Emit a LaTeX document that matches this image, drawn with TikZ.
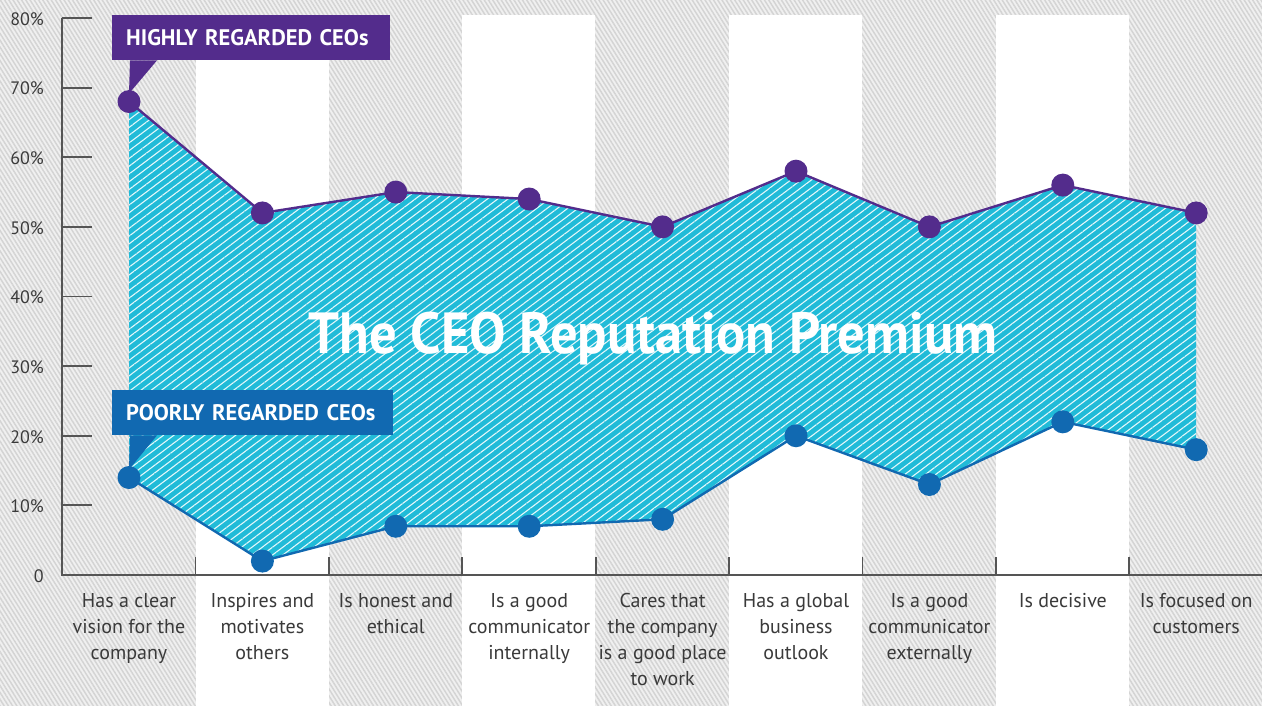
\documentclass[tikz,border=0pt]{standalone}
\usepackage{fontspec}
\setmainfont{PT Sans}
\newfontfamily\condfont[FakeStretch=0.94]{PT Sans}
\usetikzlibrary{patterns.meta,calc}
\definecolor{cyanfill}{HTML}{20BBD8}
\definecolor{purp}{HTML}{532C8C}
\definecolor{blu}{HTML}{1169B1}
\definecolor{axisgray}{HTML}{555555}
\definecolor{textgray}{HTML}{3A3A3A}
\definecolor{bggray}{HTML}{D4D4D4}
\definecolor{bglight}{HTML}{F0F0F0}
\tikzset{
  hdot/.style={circle, fill=purp, minimum size=23pt, inner sep=0pt},
  ldot/.style={circle, fill=blu, minimum size=23pt, inner sep=0pt},
  axisline/.style={draw=axisgray, line width=1.8pt},
  ylab/.style={anchor=east, inner sep=0pt, text=textgray, font=\fontsize{18}{18}\selectfont},
  xlab/.style={anchor=north, align=center, inner sep=0pt, text=textgray, font=\fontsize{20}{26}\selectfont},
  callout/.style={anchor=north west, minimum height=45pt, inner sep=0pt, text=white, align=left, text width=#1, text depth=0pt,
     font=\bfseries\fontsize{22.5}{22.5}\selectfont},
  hline/.style={draw=purp, line width=2.4pt},
  lline/.style={draw=blu, line width=2.4pt},
}
\begin{document}
\begin{tikzpicture}[x=1pt,y=-1pt]
\useasboundingbox (0,0) rectangle (1262,706);
% background
\fill[bglight] (0,0) rectangle (1262,706);
\fill[pattern={Lines[angle=-58,distance=3.6pt,line width=1.5pt]}, pattern color=bggray] (0,0) rectangle (1262,706);
\foreach \x in {196,462,729,996} \fill[white] (\x,15) rectangle ({\x+133.4},706);
% axes
\draw[axisline] (62,18) -- (62,575) -- (1262,575);
\foreach \v in {1,...,8} \draw[axisline] (62,{575-69.625*\v}) -- (92,{575-69.625*\v});
\foreach \i in {1,...,8} \draw[axisline] ({62+133.4*\i},575) -- ({62+133.4*\i},557);
\node[ylab] (y0) at (44,576) {0};
\foreach \v in {1,...,8} \node[ylab] (y\v) at (44,{576-69.625*\v}) {\v0\%};
% data
\foreach \i/\h/\l in {1/68/14,2/52/2,3/55/7,4/54/7,5/50/8,6/58/20,7/50/13,8/56/22,9/52/18}{
  \coordinate (h\i) at ({129+133.4*(\i-1)},{575-6.9625*\h});
  \coordinate (l\i) at ({129+133.4*(\i-1)},{575-6.9625*\l});
}
\path[preaction={fill=cyanfill}, pattern={Lines[angle=37,distance=6.2pt,line width=1.1pt]}, pattern color=white!88!cyanfill]
  (h1) -- (h2) -- (h3) -- (h4) -- (h5) -- (h6) -- (h7) -- (h8) -- (h9)
  -- (l9) -- (l8) -- (l7) -- (l6) -- (l5) -- (l4) -- (l3) -- (l2) -- (l1) -- cycle;
\draw[hline] (h1) -- (h2) -- (h3) -- (h4) -- (h5) -- (h6) -- (h7) -- (h8) -- (h9);
\draw[lline] (l1) -- (l2) -- (l3) -- (l4) -- (l5) -- (l6) -- (l7) -- (l8) -- (l9);
\foreach \i in {1,...,9}{
  \node[hdot] (H\i) at (h\i) {};
  \node[ldot] (L\i) at (l\i) {};
}
% title
\node[text=white, font=\condfont\bfseries\fontsize{58}{58}\selectfont] (title) at (653,339) {The CEO Reputation Premium};
% callouts
\node[callout=250pt, fill=purp, minimum width=278pt, inner xsep=14pt] (hbox) at (112,15) {HIGHLY REGARDED CEOs};
\fill[purp] ($(hbox.south west)+(18,0)$) -- ($(hbox.south west)+(45,0)$) -- ($(H1)+(0,-8)$) -- cycle;
\node[callout=253pt, fill=blu, minimum width=281pt, inner xsep=14pt] (lbox) at (112,390) {POORLY REGARDED CEOs};
\fill[blu] ($(lbox.south west)+(18,0)$) -- ($(lbox.south west)+(45,0)$) -- ($(L1)+(0,-8)$) -- cycle;
% category labels
\node[xlab] (c1) at (129,593) {Has a clear\\vision for the\\company};
\node[xlab] (c2) at (262.4,593) {Inspires and\\motivates\\others};
\node[xlab] (c3) at (395.8,593) {Is honest and\\ethical};
\node[xlab] (c4) at (529.2,593) {Is a good\\communicator\\internally};
\node[xlab] (c5) at (662.6,593) {Cares that\\the company\\is a good place\\to work};
\node[xlab] (c6) at (796,593) {Has a global\\business\\outlook};
\node[xlab] (c7) at (929.4,593) {Is a good\\communicator\\externally};
\node[xlab] (c8) at (1062.8,593) {Is decisive};
\node[xlab] (c9) at (1196.2,593) {Is focused on\\customers};
\end{tikzpicture}
\end{document}
